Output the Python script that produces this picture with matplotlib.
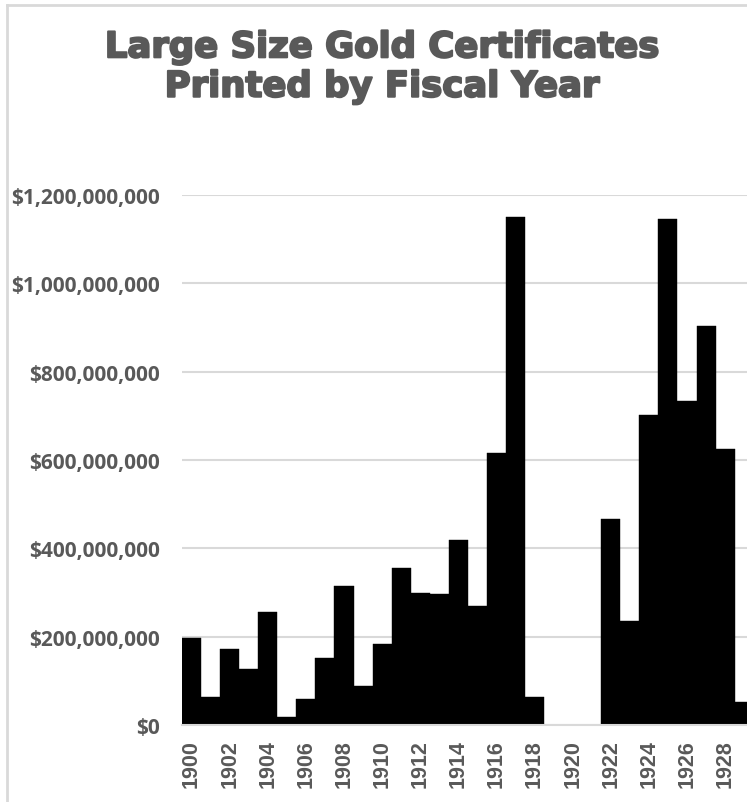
import matplotlib
matplotlib.use("Agg")
import matplotlib.pyplot as plt
import matplotlib.patheffects as pe
from matplotlib.ticker import FuncFormatter, MultipleLocator
from matplotlib.lines import Line2D

years = list(range(1900, 1930))
values = [197e6, 64e6, 173e6, 127e6, 255e6, 18e6, 60e6, 152e6, 314e6, 88e6,
          184e6, 355e6, 300e6, 296e6, 419e6, 270e6, 616e6, 1150e6, 63e6, 0,
          0, 0, 466e6, 236e6, 702e6, 1146e6, 733e6, 904e6, 624e6, 53e6]
tick_years = list(range(1900, 1930, 2))
title = "Large Size Gold Certificates\nPrinted by Fiscal Year"

W, H = 747, 803
fig = plt.figure(figsize=(W / 100, H / 100), dpi=100)
fig.patch.set_facecolor("white")

ax_left = 182 / W
ax_bottom = 1 - 726 / H
ax_top = 1 - 196 / H
ax = fig.add_axes([ax_left, ax_bottom, 1 - ax_left, ax_top - ax_bottom])

ax.bar(years, values, width=1.0, color="black", edgecolor="black", linewidth=0.3, zorder=3)

ax.set_xlim(1899.5, 1929.15)
ax.set_ylim(0, 1.2e9)
ax.yaxis.set_major_locator(MultipleLocator(2e8))
ax.yaxis.set_major_formatter(FuncFormatter(lambda v, p: "${:,.0f}".format(v)))
ax.set_xticks(tick_years)
ax.set_xticklabels([str(y) for y in tick_years], rotation=90)

ax.grid(axis="y", color="#d9d9d9", linewidth=1.5, zorder=0)
ax.set_axisbelow(True)
for s in ["top", "right", "left"]:
    ax.spines[s].set_visible(False)
ax.spines["bottom"].set_color("#d9d9d9")
ax.spines["bottom"].set_linewidth(1.5)
ax.spines["bottom"].set_zorder(4)

ax.tick_params(axis="y", length=0, pad=16, labelsize=15, labelcolor="#595959")
ax.tick_params(axis="x", length=0, pad=10, labelsize=15.5, labelcolor="#595959")
for lab in ax.get_yticklabels():
    lab.set_fontfamily("Open Sans")
    lab.set_fontweight("bold")
for lab in ax.get_xticklabels():
    lab.set_fontfamily("Liberation Sans")
    lab.set_fontweight("bold")

fig.text(382 / W, 1 - 68 / H, title, ha="center", va="center",
         fontsize=25.5, fontweight="bold", family="DejaVu Sans",
         color="#595959", linespacing=1.2,
         path_effects=[pe.withStroke(linewidth=1.5, foreground="#595959")])

# chart area border (left and top)
fig.add_artist(Line2D([7 / W, 7 / W], [0, 1 - 6 / H], transform=fig.transFigure,
                      color="#d9d9d9", linewidth=2))
fig.add_artist(Line2D([7 / W, 1], [1 - 6 / H, 1 - 6 / H], transform=fig.transFigure,
                      color="#d9d9d9", linewidth=2))

fig.savefig("out.png", dpi=100)
